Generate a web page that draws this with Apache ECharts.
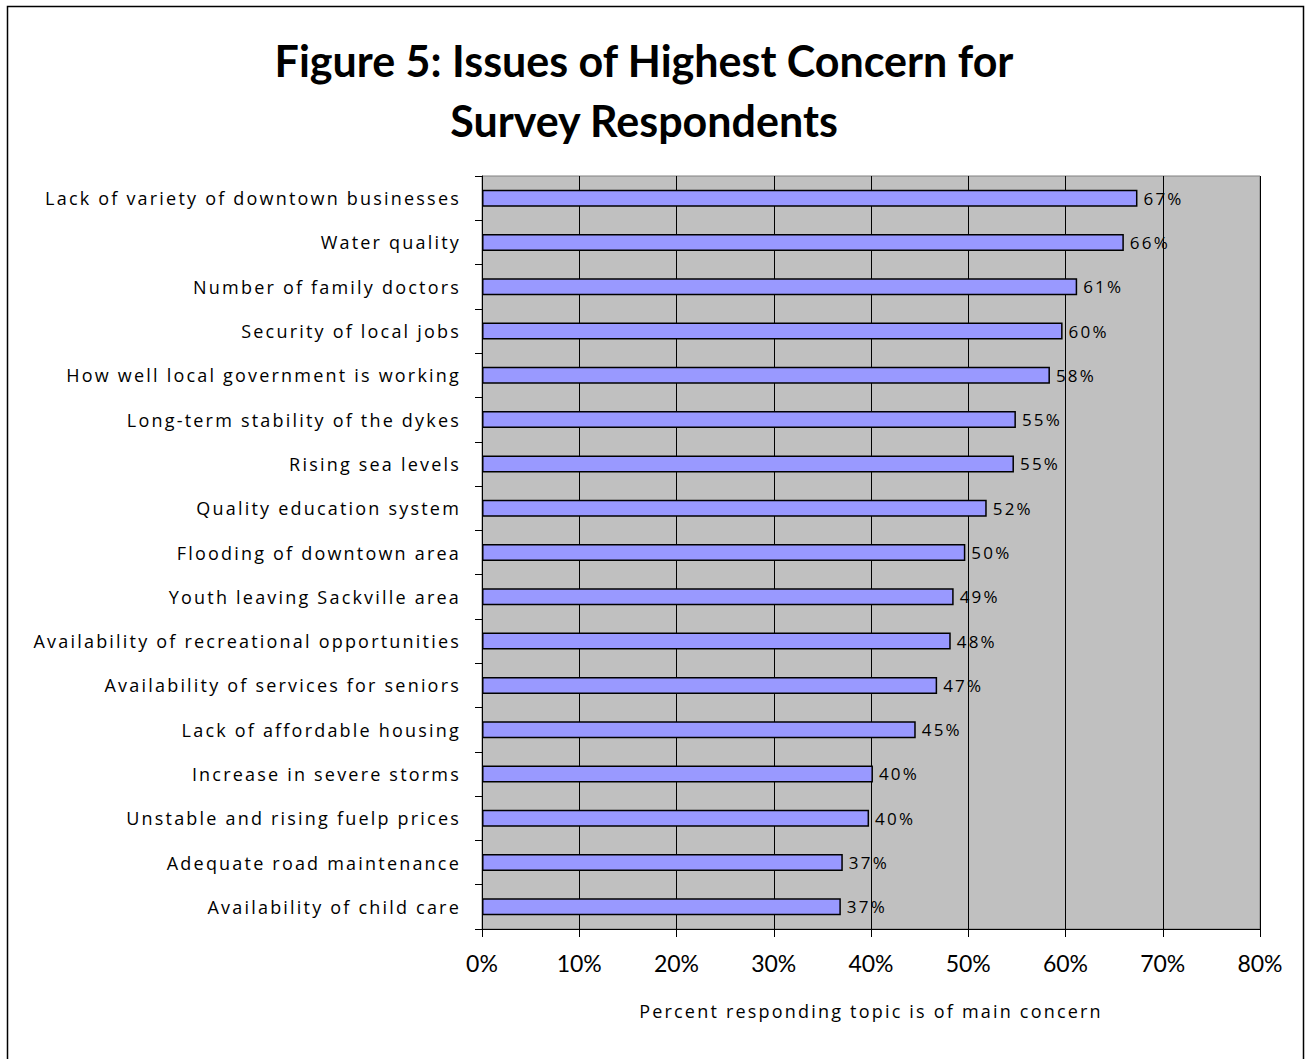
<!DOCTYPE html>
<html>
<head>
<meta charset="utf-8">
<script src="https://cdn.jsdelivr.net/npm/echarts@6/dist/echarts.min.js"></script>
<style>
  html, body { margin: 0; padding: 0; background: #fff; }
  #chart { width: 1306px; height: 1059px; }
  /* the body text of the chart is set loosely tracked */
  #chart svg text[style*="Open Sans"] { letter-spacing: 2.2px; }
</style>
</head>
<body>
<div id="chart"></div>
<script>
// Survey topics, top to bottom
const categories = [
  'Lack of variety of downtown businesses',
  'Water quality',
  'Number of family doctors',
  'Security of local jobs',
  'How well local government is working',
  'Long-term stability of the dykes',
  'Rising sea levels',
  'Quality education system',
  'Flooding of downtown area',
  'Youth leaving Sackville area',
  'Availability of recreational opportunities',
  'Availability of services for seniors',
  'Lack of affordable housing',
  'Increase in severe storms',
  'Unstable and rising fuelp prices',
  'Adequate road maintenance',
  'Availability of child care'
];

// Percent of respondents naming each topic a main concern
const percentConcerned = [
  67.4, 66.0, 61.2, 59.7, 58.4, 54.9, 54.7, 51.9, 49.7,
  48.5, 48.2, 46.8, 44.6, 40.2, 39.8, 37.1, 36.9
];

// Horizontal axis ticks (percent)
const xTicks = [0, 10, 20, 30, 40, 50, 60, 70, 80];

const BODY_FONT = '"Open Sans", sans-serif';
const HEAD_FONT = 'Lato, sans-serif';

const chart = echarts.init(document.getElementById('chart'), null, { renderer: 'svg' });

chart.setOption({
  backgroundColor: '#ffffff',
  animation: false,
  title: {
    text: 'Figure 5: Issues of Highest Concern for\nSurvey Respondents',
    left: 639,
    top: 25,
    textAlign: 'center',
    textStyle: {
      fontFamily: HEAD_FONT,
      fontWeight: 'bold',
      fontSize: 43,
      lineHeight: 60,
      color: '#000'
    }
  },
  graphic: [{
    type: 'rect',
    shape: { x: 7.5, y: 6.5, width: 1296, height: 1060 },
    style: { fill: 'none', stroke: '#000', lineWidth: 1.5 },
    silent: true,
    z: 100
  }],
  grid: {
    left: 482,
    right: 46,
    top: 176,
    bottom: 130,
    show: true,
    backgroundColor: '#C0C0C0',
    borderColor: '#808080',
    borderWidth: 1
  },
  xAxis: {
    type: 'value',
    min: xTicks[0],
    max: xTicks[xTicks.length - 1],
    interval: 10,
    name: 'Percent responding topic is of main concern',
    nameLocation: 'middle',
    nameGap: 73,
    nameTextStyle: { fontFamily: BODY_FONT, fontSize: 18, color: '#000' },
    axisLine: { show: true, lineStyle: { color: '#000', width: 1 } },
    axisTick: { show: true, length: 8, lineStyle: { color: '#000' } },
    axisLabel: {
      formatter: '{value}%',
      margin: 22,
      fontFamily: HEAD_FONT,
      fontSize: 23,
      color: '#000'
    },
    splitLine: { show: true, lineStyle: { color: '#000', width: 1 } }
  },
  yAxis: {
    type: 'category',
    data: categories,
    inverse: true,
    axisLine: { show: true, lineStyle: { color: '#000', width: 1 } },
    axisTick: { show: true, length: 7, lineStyle: { color: '#000' } },
    axisLabel: {
      margin: 21,
      fontFamily: BODY_FONT,
      fontSize: 18,
      color: '#000'
    },
    splitLine: { show: false }
  },
  series: [{
    type: 'bar',
    data: percentConcerned,
    barWidth: 17,
    itemStyle: { color: '#9999FF', borderColor: '#000', borderWidth: 1.5 },
    label: {
      show: true,
      position: 'right',
      distance: 6,
      formatter: p => Math.round(p.value) + '%',
      fontFamily: BODY_FONT,
      fontSize: 17,
      color: '#000'
    }
  }]
});
</script>
</body>
</html>
